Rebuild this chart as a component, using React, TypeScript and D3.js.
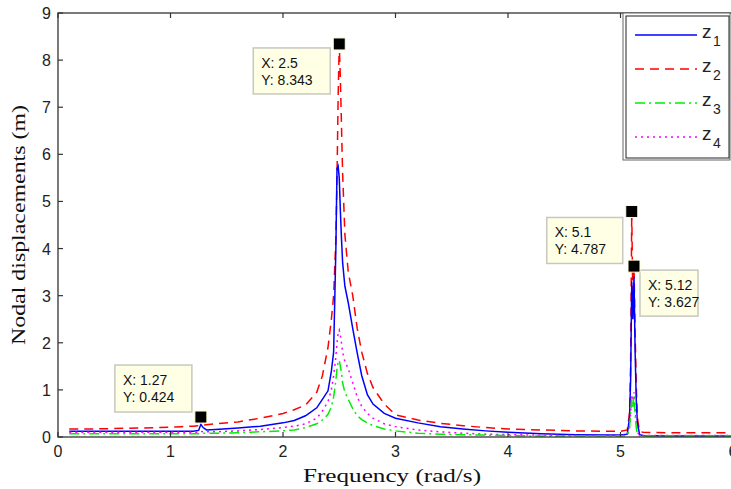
import React from "react";
import * as d3 from "d3";

const freq = [0.1, 0.3, 0.5, 0.7, 0.9, 1.1, 1.2, 1.25, 1.27, 1.29, 1.32, 1.4, 1.6, 1.8, 2.0, 2.1, 2.2, 2.3, 2.35, 2.4, 2.43, 2.45, 2.47, 2.48, 2.49, 2.5, 2.51, 2.52, 2.53, 2.55, 2.58, 2.62, 2.66, 2.7, 2.75, 2.8, 2.9, 3.0, 3.2, 3.4, 3.6, 3.8, 4.0, 4.3, 4.6, 4.9, 5.0, 5.06, 5.08, 5.09, 5.1, 5.11, 5.12, 5.13, 5.14, 5.15, 5.17, 5.2, 5.4, 5.7, 6.0];

const z1 = [0.12, 0.12, 0.12, 0.12, 0.12, 0.12, 0.12, 0.14, 0.27, 0.2, 0.15, 0.16, 0.19, 0.23, 0.3, 0.35, 0.45, 0.62, 0.8, 0.98, 1.4, 1.8, 4.0, 5.7, 5.75, 5.5, 4.8, 4.2, 3.7, 3.2, 2.85, 2.3, 1.78, 1.3, 0.9, 0.7, 0.5, 0.4, 0.3, 0.22, 0.17, 0.13, 0.1, 0.07, 0.05, 0.04, 0.04, 0.06, 0.4, 1.2, 3.3, 2.5, 3.4, 1.8, 0.8, 0.3, 0.05, 0.03, 0.02, 0.02, 0.02];

const z2 = [0.17, 0.17, 0.18, 0.19, 0.2, 0.22, 0.23, 0.24, 0.25, 0.25, 0.26, 0.28, 0.32, 0.4, 0.5, 0.58, 0.68, 0.95, 1.3, 1.9, 2.5, 3.0, 4.2, 5.5, 7.2, 8.343, 7.6, 6.6, 5.6, 4.3, 3.5, 3.0, 2.3, 1.8, 1.35, 1.05, 0.7, 0.47, 0.36, 0.29, 0.24, 0.2, 0.17, 0.15, 0.13, 0.12, 0.12, 0.15, 0.5, 1.5, 4.787, 2.8, 3.627, 2.2, 1.1, 0.4, 0.12, 0.1, 0.09, 0.09, 0.09];

const z3 = [0.07, 0.07, 0.07, 0.07, 0.07, 0.07, 0.07, 0.07, 0.08, 0.08, 0.08, 0.08, 0.09, 0.11, 0.13, 0.15, 0.2, 0.28, 0.36, 0.48, 0.64, 0.85, 1.2, 1.45, 1.6, 1.63, 1.5, 1.35, 1.15, 0.95, 0.8, 0.6, 0.45, 0.37, 0.3, 0.24, 0.17, 0.13, 0.08, 0.06, 0.05, 0.04, 0.03, 0.02, 0.02, 0.02, 0.02, 0.03, 0.2, 0.5, 0.8, 0.6, 0.9, 0.5, 0.2, 0.06, 0.02, 0.02, 0.02, 0.02, 0.02];

const z4 = [0.1, 0.1, 0.1, 0.1, 0.1, 0.1, 0.1, 0.1, 0.12, 0.11, 0.11, 0.11, 0.13, 0.16, 0.2, 0.23, 0.28, 0.4, 0.55, 0.75, 1.0, 1.3, 1.7, 2.0, 2.2, 2.27, 2.15, 2.0, 1.8, 1.6, 1.45, 1.15, 0.85, 0.65, 0.5, 0.4, 0.28, 0.22, 0.15, 0.11, 0.08, 0.06, 0.05, 0.04, 0.03, 0.03, 0.03, 0.04, 0.2, 0.5, 0.9, 0.7, 0.95, 0.6, 0.3, 0.1, 0.03, 0.03, 0.03, 0.03, 0.03];

const seriesNames = ["1", "2", "3", "4"];
const xTicks = [0, 1, 2, 3, 4, 5, 6];
const yTicks = [0, 1, 2, 3, 4, 5, 6, 7, 8, 9];

const tipX = [1.27, 2.5, 5.1, 5.12];
const tipY = [0.424, 8.343, 4.787, 3.627];
// box placement relative to marker: [dx, dy, w, h]
const tipBox = [
  [-86, -52, 77, 47],
  [-86, 4, 77, 46],
  [-85, 6, 76, 46],
  [6, 4, 58, 46],
];

const colors = ["#0000ff", "#ff0000", "#00ee00", "#ff00ff"];
const dashes = ["none", "9,6", "10,4,2,4", "2,4"];

export default function App() {
  const W = 731, H = 489;
  const L = 58, R = 733, T = 13, B = 437;
  const x = d3.scaleLinear().domain([0, 6]).range([L, R]);
  const y = d3.scaleLinear().domain([0, 9]).range([B, T]);
  const data = [z1, z2, z3, z4];
  const line = d3.line<[number, number]>().x(d => x(d[0])).y(d => y(d[1]));
  const drawOrder = [1, 0, 3, 2];
  const axisColor = "#333";
  return (
    <svg width={W} height={H} style={{ position: "absolute", left: 0, top: 0, background: "#fff" }}>
      <rect x={0} y={0} width={W} height={H} fill="#fff" />
      <defs>
        <clipPath id="pc"><rect x={L} y={T} width={R - L} height={B - T} /></clipPath>
      </defs>
      <g clipPath="url(#pc)">
        {drawOrder.map(i => (
          <path key={i} d={line(freq.map((f, k) => [f, data[i][k]]) as [number, number][]) || ""}
            fill="none" stroke={colors[i]} strokeWidth={1.5} strokeDasharray={dashes[i]} />
        ))}
      </g>
      <rect x={L} y={T} width={R - L} height={B - T} fill="none" stroke={axisColor} strokeWidth={1.3} />
      {xTicks.map(t => (
        <g key={"x" + t}>
          <line x1={x(t)} x2={x(t)} y1={B} y2={B - 5} stroke={axisColor} strokeWidth={1.2} />
          <line x1={x(t)} x2={x(t)} y1={T} y2={T + 5} stroke={axisColor} strokeWidth={1.2} />
          <text x={x(t)} y={457} textAnchor="middle" fontFamily="Liberation Sans, Arial, sans-serif" fontSize={16} fill="#222">{t}</text>
        </g>
      ))}
      {yTicks.map(t => (
        <g key={"y" + t}>
          <line x1={L} x2={L + 5} y1={y(t)} y2={y(t)} stroke={axisColor} strokeWidth={1.2} />
          <text x={51} y={y(t) + 6} textAnchor="end" fontFamily="Liberation Sans, Arial, sans-serif" fontSize={16} fill="#222">{t}</text>
        </g>
      ))}
      <text x={392} y={482} textAnchor="middle" fontFamily="Liberation Serif, Times New Roman, serif" fontSize={19} textLength={178} lengthAdjust="spacingAndGlyphs" fill="#111">Frequency (rad/s)</text>
      <text transform="translate(25,225) rotate(-90)" textAnchor="middle" fontFamily="Liberation Serif, Times New Roman, serif" fontSize={19} textLength={240} lengthAdjust="spacingAndGlyphs" fill="#111">Nodal displacements (m)</text>

      {/* legend */}
      <rect x={623} y={13} width={107} height={147} fill="#fff" stroke="#666" strokeWidth={1} />
      <rect x={626} y={16} width={103} height={142} fill="#fff" stroke="#222" strokeWidth={1} />
      {seriesNames.map((n, i) => {
        const ly = 35 + i * 34;
        return (
          <g key={"l" + i}>
            <line x1={635} x2={697} y1={ly} y2={ly} stroke={colors[i]} strokeWidth={1.5} strokeDasharray={dashes[i]} />
            <text x={702} y={ly + 3} fontFamily="Liberation Sans, Arial, sans-serif" fontSize={19} fill="#222">z</text>
            <text x={713} y={ly + 11} fontFamily="Liberation Sans, Arial, sans-serif" fontSize={14} fill="#222">{n}</text>
          </g>
        );
      })}

      {/* data tips */}
      {tipX.map((tx, i) => {
        const mx = x(tx), my = y(tipY[i]);
        const [dx, dy, w, h] = tipBox[i];
        const bx = mx + dx, by = my + dy;
        return (
          <g key={"t" + i}>
            <rect x={bx} y={by} width={w} height={h} fill="#ffffe6" stroke="#c8c8c0" strokeWidth={1.5} />
            <text x={bx + 8} y={by + 20} fontFamily="Liberation Sans, Arial, sans-serif" fontSize={14} fill="#111">{"X: " + tx}</text>
            <text x={bx + 8} y={by + 37} fontFamily="Liberation Sans, Arial, sans-serif" fontSize={14} fill="#111">{"Y: " + tipY[i]}</text>
            <rect x={mx - 6} y={my - 6} width={12} height={12} fill="#000" stroke="#ffffd0" strokeWidth={1} />
          </g>
        );
      })}
    </svg>
  );
}
